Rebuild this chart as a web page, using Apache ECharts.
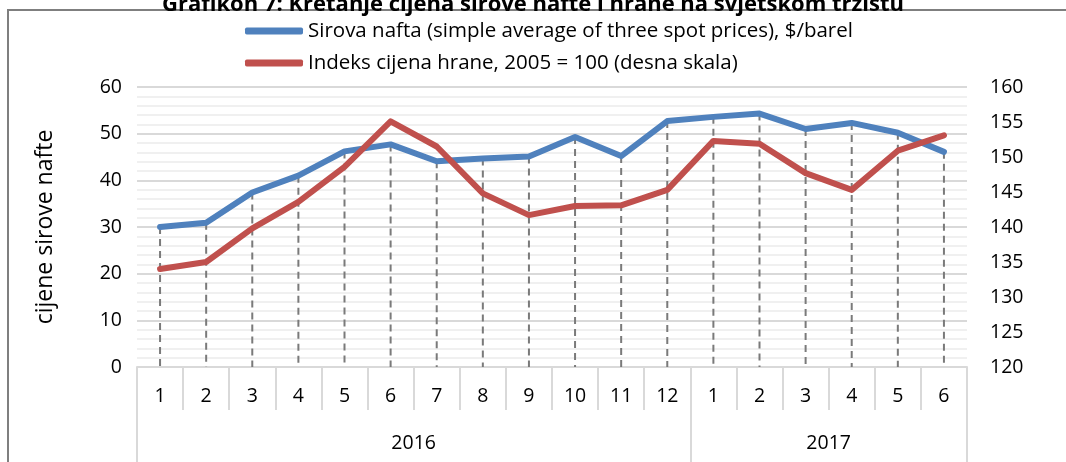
<!DOCTYPE html>
<html>
<head>
<meta charset="utf-8">
<script src="https://cdn.jsdelivr.net/npm/echarts@6/dist/echarts.min.js"></script>
<style>html,body{margin:0;padding:0;background:#fff}#c{width:1066px;height:462px}</style>
</head>
<body>
<div id="c"></div>
<script>
const months = ['1','2','3','4','5','6','7','8','9','10','11','12','1','2','3','4','5','6'];
const years = ['2016', '2017'];
const yearBounds = [0, 12, 18];
const yearCenters = [6, 15];
const oil = [30.0, 30.9, 37.4, 41.0, 46.2, 47.7, 44.1, 44.7, 45.1, 49.3, 45.2, 52.7, 53.6, 54.3, 51.0, 52.3, 50.2, 46.1];
const food = [134.0, 135.0, 139.8, 143.6, 148.6, 155.1, 151.5, 144.8, 141.7, 143.0, 143.1, 145.3, 152.3, 151.9, 147.7, 145.3, 150.9, 153.1];
const leftTicks = [0, 60, 10];
const rightTicks = [120, 160, 5];
const oilName = 'Sirova nafta (simple average of three spot prices), $/barel';
const foodName = 'Indeks cijena hrane, 2005 = 100 (desna skala)';
const titleText = 'Grafikon 7: Kretanje cijena sirove nafte i hrane na svjetskom tržištu';

const FONT = "'Open Sans', 'Noto Sans', sans-serif";
const chart = echarts.init(document.getElementById('c'));
chart.setOption({
  animation: false,
  textStyle: {fontFamily: FONT},
  title: {
    text: titleText, left: 'center', top: -11,
    textStyle: {fontSize: 22, fontWeight: 'bold', color: '#000', fontFamily: FONT}
  },
  graphic: [{
    type: 'rect', shape: {x: 8, y: 10, width: 1080, height: 480},
    style: {fill: 'none', stroke: '#7f7f7f', lineWidth: 2}, silent: true, z: -1
  }],
  legend: {
    orient: 'vertical', left: 240, top: 15, itemGap: 10,
    itemWidth: 58, itemHeight: 7, icon: 'roundRect',
    textStyle: {fontSize: 20.5, color: '#000', fontFamily: FONT, lineHeight: 22},
    data: [oilName, foodName]
  },
  grid: {left: 137, right: 99, top: 87, bottom: 95},
  xAxis: [{
    type: 'category', data: months, boundaryGap: true,
    axisLine: {lineStyle: {color: '#d9d9d9', width: 2}},
    axisTick: {show: true, interval: 0, length: 43, lineStyle: {color: '#d9d9d9', width: 2}},
    axisLabel: {interval: 0, fontSize: 19.5, color: '#000', margin: 19, fontFamily: FONT}
  }, {
    type: 'value', min: 0, max: 18, position: 'bottom', offset: 43,
    axisLine: {show: false},
    splitLine: {show: false},
    axisTick: {show: true, customValues: yearBounds, length: 60, lineStyle: {color: '#d9d9d9', width: 2}},
    axisLabel: {customValues: yearCenters, fontSize: 19.5, color: '#000', margin: 23, fontFamily: FONT,
      formatter: v => years[yearCenters.indexOf(v)]}
  }],
  yAxis: [{
    type: 'value', min: leftTicks[0], max: leftTicks[1], interval: leftTicks[2],
    name: 'cijene sirove nafte', nameLocation: 'middle', nameGap: 80, nameRotate: 90,
    nameTextStyle: {fontSize: 23, color: '#000', fontFamily: FONT},
    axisLine: {show: false}, axisTick: {show: false},
    axisLabel: {fontSize: 19.5, color: '#000', margin: 15, fontFamily: FONT},
    splitLine: {lineStyle: {color: '#d9d9d9', width: 2}},
    minorTick: {show: false, splitNumber: 5},
    minorSplitLine: {show: true, lineStyle: {color: '#f0f0f0', width: 2}}
  }, {
    type: 'value', min: rightTicks[0], max: rightTicks[1], interval: rightTicks[2],
    axisLine: {show: false}, axisTick: {show: false},
    axisLabel: {fontSize: 19.5, color: '#000', margin: 23, fontFamily: FONT},
    splitLine: {show: false}
  }],
  series: [{
    type: 'custom', name: 'drop', xAxisIndex: 0, yAxisIndex: 0, z: 1, silent: true,
    data: oil.map((v, i) => [i, v]),
    encode: {x: 0, y: 1},
    renderItem: (params, api) => {
      const p1 = api.coord([api.value(0), api.value(1)]);
      const p0 = api.coord([api.value(0), 0]);
      return {type: 'line', shape: {x1: p1[0], y1: p1[1], x2: p0[0], y2: p0[1]},
        style: {stroke: '#7a7a7a', lineWidth: 2, lineDash: [7, 5]}};
    }
  }, {
    type: 'line', name: oilName, data: oil, xAxisIndex: 0, yAxisIndex: 0,
    symbol: 'none', z: 3, color: '#4f81bd',
    lineStyle: {width: 6, color: '#4f81bd', cap: 'round', join: 'round'}
  }, {
    type: 'line', name: foodName, data: food, xAxisIndex: 0, yAxisIndex: 1,
    symbol: 'none', z: 4, color: '#c0504d',
    lineStyle: {width: 6, color: '#c0504d', cap: 'round', join: 'round'}
  }]
});
</script>
</body>
</html>
